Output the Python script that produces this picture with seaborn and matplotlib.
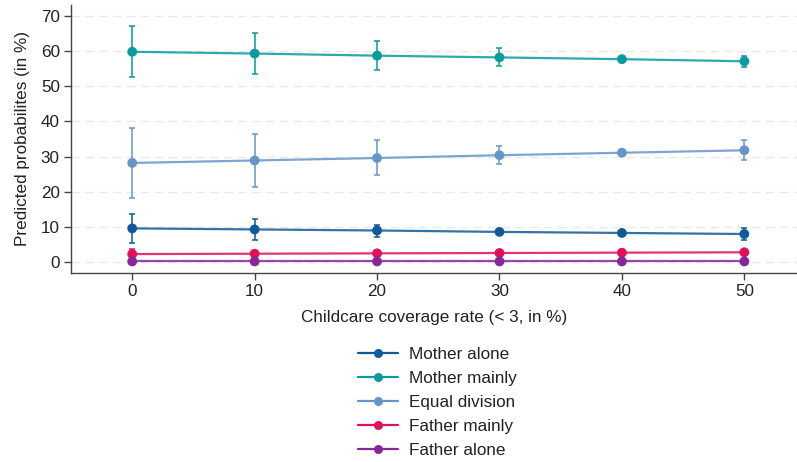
import matplotlib
matplotlib.use("Agg")
import matplotlib.pyplot as plt
import seaborn as sns
import pandas as pd
import numpy as np

coverage = [0, 10, 20, 30, 40, 50]
series = ["Mother alone", "Mother mainly", "Equal division", "Father mainly", "Father alone"]

mother_alone = [9.6, 9.3, 9.0, 8.6, 8.3, 8.0]
mother_alone_lo = [5.4, 6.3, 7.2, 7.9, 7.8, 6.3]
mother_alone_hi = [13.7, 12.2, 10.6, 9.3, 8.8, 9.6]

mother_mainly = [59.8, 59.3, 58.7, 58.2, 57.7, 57.1]
mother_mainly_lo = [52.5, 53.6, 54.6, 55.9, 57.2, 55.6]
mother_mainly_hi = [67.1, 65.1, 63.0, 60.8, 58.2, 58.7]

equal_division = [28.2, 28.9, 29.6, 30.4, 31.1, 31.8]
equal_division_lo = [18.3, 21.4, 24.7, 27.9, 30.5, 29.0]
equal_division_hi = [38.2, 36.4, 34.6, 32.9, 31.7, 34.6]

father_mainly = [2.3, 2.4, 2.5, 2.6, 2.7, 2.8]
father_mainly_lo = [1.1, 1.6, 2.0, 2.3, 2.4, 2.3]
father_mainly_hi = [3.6, 3.3, 3.0, 2.9, 3.0, 3.3]

father_alone = [0.2, 0.2, 0.2, 0.2, 0.2, 0.2]
father_alone_lo = [0.0, 0.0, 0.1, 0.1, 0.1, 0.1]
father_alone_hi = [0.4, 0.4, 0.3, 0.3, 0.3, 0.3]

colors = ["#0f5a98", "#0a9a9f", "#6696c8", "#e0105c", "#84289a"]

vals = [mother_alone, mother_mainly, equal_division, father_mainly, father_alone]
los = [mother_alone_lo, mother_mainly_lo, equal_division_lo, father_mainly_lo, father_alone_lo]
his = [mother_alone_hi, mother_mainly_hi, equal_division_hi, father_mainly_hi, father_alone_hi]

rows = []
for name, v, lo, hi in zip(series, vals, los, his):
    for x, y, l, h in zip(coverage, v, lo, hi):
        rows.append({"coverage": x, "prob": y, "lo": l, "hi": h, "series": name})
df = pd.DataFrame(rows)

sns.set_style("white")
plt.rcParams["font.family"] = ["Liberation Sans", "DejaVu Sans"]

FS = 12.3

fig = plt.figure(figsize=(7.97, 4.62), dpi=100)
ax = fig.add_axes([71 / 797, 1 - 272.7 / 462, (797 - 71) / 797, (272.7 - 5) / 462])

for yv in range(0, 80, 10):
    ax.axhline(yv, color="#e8e8e8", lw=1.0, ls=(0, (6, 4)), zorder=0)

for name, c in zip(series, colors):
    d = df[df["series"] == name]
    ax.errorbar(d["coverage"], d["prob"], yerr=[d["prob"] - d["lo"], d["hi"] - d["prob"]],
                fmt="none", ecolor=c, elinewidth=1.3, capsize=2.5, capthick=1.3, alpha=0.85, zorder=2)

sns.lineplot(data=df, x="coverage", y="prob", hue="series", hue_order=series,
             palette=colors, lw=1.6, alpha=0.85, ax=ax, legend=False, zorder=3)
sns.scatterplot(data=df, x="coverage", y="prob", hue="series", hue_order=series,
                palette=colors, s=50, linewidth=0, ax=ax, legend=False, zorder=4)

ax.set_xlim(-5, 54.3)
ax.set_ylim(-3, 73.1)
ax.set_xticks(coverage)
ax.set_yticks(range(0, 80, 10))
ax.tick_params(axis="both", labelsize=FS, length=5, width=1, color="#444444", direction="out",
               bottom=True, left=True, colors="#222222", pad=3)
for s in ["top", "right"]:
    ax.spines[s].set_visible(False)
for s in ["left", "bottom"]:
    ax.spines[s].set_color("#444444")
    ax.spines[s].set_linewidth(1.0)
ax.set_xlabel("Childcare coverage rate (< 3, in %)", fontsize=FS, color="#222222", labelpad=8)
ax.set_ylabel("Predicted probabilites (in %)", fontsize=FS, color="#222222", labelpad=8)

handles = []
for c in colors:
    h = plt.Line2D([], [], color=c, marker="o", markersize=6.5, markeredgewidth=0,
                   markerfacecolor=c, lw=1.6)
    handles.append(h)
leg = fig.legend(handles, series, loc="upper left", bbox_to_anchor=(349 / 797, 1 - 338 / 462),
                 frameon=False, fontsize=FS, handlelength=2.35, labelspacing=0.53, handletextpad=0.64,
                 borderpad=0, labelcolor="#222222")

fig.savefig("out.png", dpi=100)
